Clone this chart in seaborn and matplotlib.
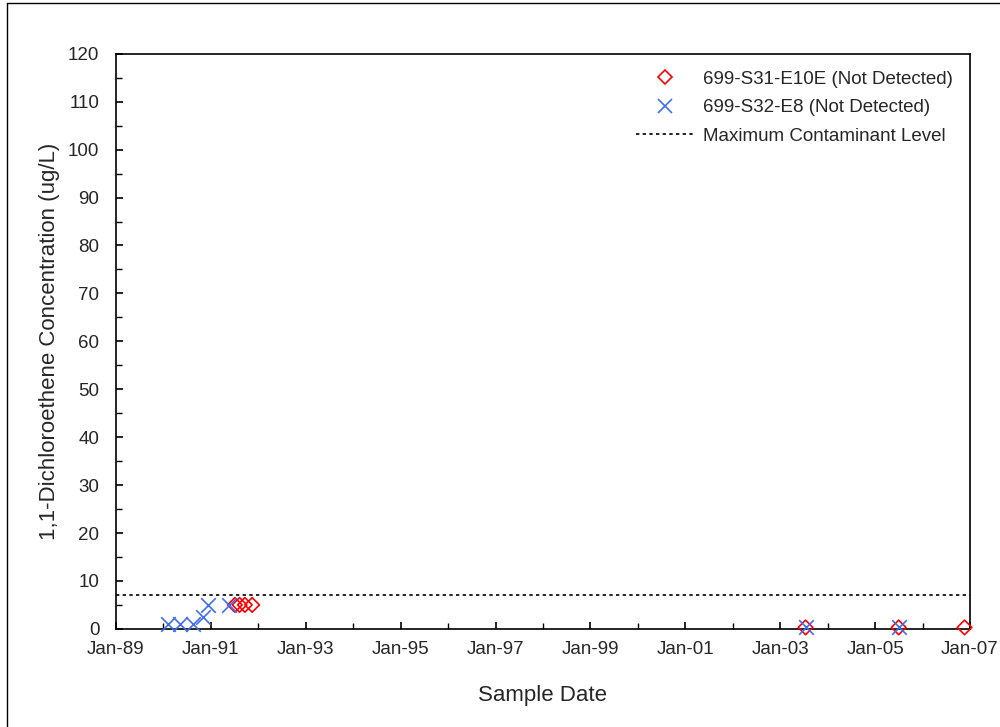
import numpy as np
import pandas as pd
import seaborn as sns
import matplotlib.pyplot as plt
import matplotlib.dates as mdates
from matplotlib.lines import Line2D

# 699-S31-E10E (Not Detected)
e10e_dates = ["1991-07-05", "1991-08-10", "1991-09-20", "1991-11-15",
              "2003-07-15", "2005-07-01", "2006-11-20"]
e10e_vals = [5, 5, 5, 5, 0.3, 0.3, 0.3]

# 699-S32-E8 (Not Detected)
e8_dates = ["1990-02-05", "1990-05-10", "1990-08-15", "1990-11-05", "1990-12-10",
            "1991-05-20", "2003-07-15", "2005-07-01"]
e8_vals = [1, 1, 1, 2.5, 5, 5, 0.3, 0.3]

mcl = 7
major_years = list(range(1989, 2008, 2))

df1 = pd.DataFrame({"date": pd.to_datetime(e10e_dates), "val": e10e_vals})
df2 = pd.DataFrame({"date": pd.to_datetime(e8_dates), "val": e8_vals})

sns.set_style("white")
plt.rcParams["font.family"] = ["Liberation Sans", "DejaVu Sans"]

fig = plt.figure(figsize=(10, 7.27), dpi=100)
ax = fig.add_axes([0.116, 0.135, 0.854, 0.791])

sns.scatterplot(data=df1, x="date", y="val", ax=ax, marker="D", s=55,
                facecolor="none", edgecolor="#ff0000", linewidth=1.2, zorder=3,
                clip_on=False)
sns.scatterplot(data=df2, x="date", y="val", ax=ax, marker="x", s=110,
                color="#3f6ff0", linewidth=1.2, zorder=4, clip_on=False)
ax.axhline(mcl, color="black", linestyle=(0, (2, 2)), linewidth=1.2)

ax.set_xlim(pd.Timestamp("1989-01-01"), pd.Timestamp("2007-01-01"))
ax.set_ylim(0, 120)
ax.set_yticks(np.arange(0, 121, 10))
ax.yaxis.set_minor_locator(plt.MultipleLocator(5))
ax.set_xticks([pd.Timestamp(f"{y}-01-01") for y in major_years])
ax.xaxis.set_minor_locator(mdates.YearLocator(1, month=1, day=1))
ax.xaxis.set_major_formatter(mdates.DateFormatter("%b-%y"))

ax.tick_params(axis="both", which="major", direction="in", length=5, width=1.2,
               labelsize=13.5, pad=12, color="black")
ax.tick_params(axis="both", which="minor", direction="in", length=4, width=1,
               color="black")
ax.tick_params(axis="x", which="major", pad=9)
ax.tick_params(bottom=True, left=True, which="both")

for sp in ax.spines.values():
    sp.set_color("black")
    sp.set_linewidth(1.2)

ax.set_xlabel("Sample Date", fontsize=16, labelpad=19)
ax.set_ylabel("1,1-Dichloroethene Concentration (ug/L)", fontsize=16, labelpad=6)

handles = [
    Line2D([], [], marker="D", linestyle="none", markerfacecolor="none",
           markeredgecolor="#ff0000", markersize=7, markeredgewidth=1.2),
    Line2D([], [], marker="x", linestyle="none", color="#3f6ff0",
           markersize=10, markeredgewidth=1.2),
    Line2D([], [], color="black", linestyle=(0, (2, 2)), linewidth=1.2),
]
labels = ["699-S31-E10E (Not Detected)", "699-S32-E8 (Not Detected)",
          "Maximum Contaminant Level"]
ax.legend(handles, labels, loc="upper right", frameon=False, fontsize=13.5,
          handlelength=3.1, handletextpad=0.5, labelspacing=0.6,
          borderaxespad=0.5)

# outer chart border
fig.add_artist(Line2D([0.007, 0.007], [0, 0.996], color="black", linewidth=1,
                      transform=fig.transFigure))
fig.add_artist(Line2D([0.007, 1.0], [0.996, 0.996], color="black", linewidth=1,
                      transform=fig.transFigure))

fig.savefig("out.png", dpi=100)
